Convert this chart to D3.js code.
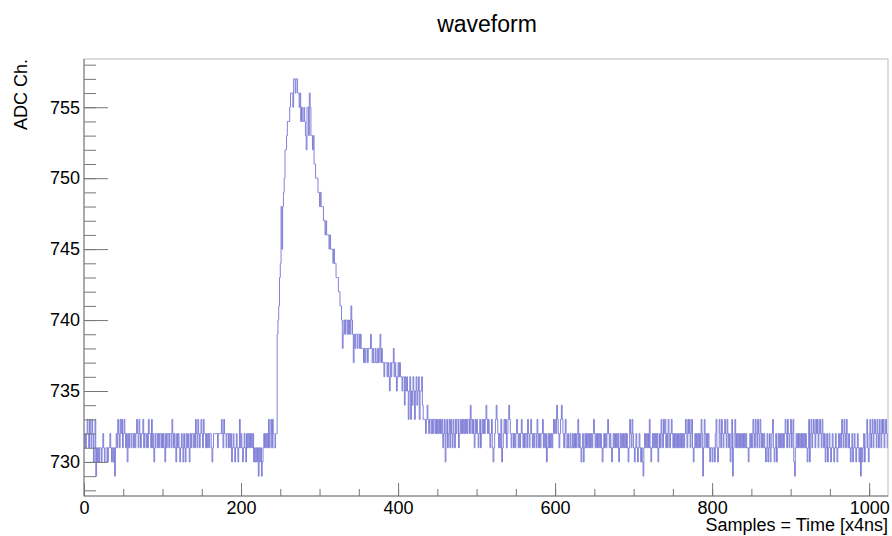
<!DOCTYPE html>
<html>
<head>
<meta charset="utf-8">
<script src="https://cdn.jsdelivr.net/npm/d3@7"></script>
<style>
  html, body { margin: 0; padding: 0; background: #fff; }
  svg { display: block; font-family: "Liberation Sans", Arial, Helvetica, sans-serif; }
</style>
</head>
<body>
<svg id="chart" width="892" height="536"></svg>
<script>
// ADC samples of one digitised waveform, one value per 4 ns sample.
const adcPreTrigger = [
  731,732,731,732,733,732,731,733,732,731,
  733,732,730,731,733,729,731,730,731,730,
  731,731,730,731,732,731,730,730,731,731,
  730,731,731,732,731,730,731,730,731,729,
  731,732,731,733,732,731,733,732,733,731,
  732,733,732,731,732,730,732,731,732,732,
  731,732,732,731,732,731,732,733,732,731,
  733,732,731,732,732,733,731,732,732,731,
  732,731,733,732,732,731,733,731,732,730,
  731,732,732,731,732,731,732,732,731,732,
  731,732,731,730,732,731,732,732,731,732,
  732,731,733,732,731,732,731,730,732,731,
  732,731,730,731,732,731,730,732,731,730,
  732,731,732,731,730,732,731,732,732,731,
  732,731,733,732,731,733,732,731,732,733,
  732,731,733,732,732,731,732,731,732,731,
  732,732,731,730,731,732,732,732,732,732,
  731,732,732,732,732,733,732,731,733,732,
  732,731,732,732,731,732,731,732,730,731,
  732,731,730,731,732,731,730,731,733,731,
  732,731,730,731,732,731,730,732,731,732,
  731,732,731,732,731,732,730,731,730,731,
  730,731,729,731,730,731,729,730,731,732,
  731,732,731,732,731,733,731,732,733,731,
  733,732,731,731,732,732
];
const adcRise = [
  739,740,741,743,744,748,745,748,749,750,
  752,752,753,754,754,754,755,756,756,756,
  755,757,757,756,757
];
const adcDecay = [
  757,756,756,755,756,754,755,754,754,755,
  754,753,752,755,755,753,756,755,753,753,
  752,753,751,751,750,750,750,749,749,748,
  749,748,748,748,747,747,746,747,746,746,
  746,745,746,745,745,745,744,745,744,744,
  743,743,743,742,742,741,741,740,738,739,
  740,739,740,740,739,740,739,740,739,741,
  740,739,737,739,738,739,739,738,739,739,
  738,739,738,738,738,737,738,737,738,738,
  737,738,738,738,739,738,737,738,737,737,
  738,737,737,738,737,738,739,737,738,737,
  737,736,737,737,737,736,737,736,735,737,
  736,737,737,738,736,737,736,735,736,737,
  736,737,736,736,735,736,736,734,736,735,
  736,735,733,735,736,733,735,734,736,735,
  733,735,736,734,735,736,733,735,735,736,
  734,733,733
];
const adcTailEarly = [
  733,732,733,734,733,732,733,733,732,733,
  732,733,733,732,733,732,733,732,733,732,
  733,732,733,731,732,733,730,732,733,731,
  732,733,731,733,732,731,733,732,731,733,
  732,733,733,731,732,733,732,733,732,733,
  732,733,732,733,732,733,733,732,734,733,
  732,733,732,731,733,732,733,732,731,732,
  733,731,732,733,732,733,732,733,734,733,
  732,733,732,731,732,733,731,730,731,732,
  733,734,733,732,731,732,731,733,730,731,
  732,733,732,733,731,732,733,734,733,732,
  731,732,732,731,732,731,732,733,732,731,
  732,731,732,733,732,731,732,731,732,732,
  731,733,732,731,732,733,732,731,732,731,
  732,732,731,733,732,731,732,731,732,732,
  733,731,732,731,732,730,731,732,731,732,
  731,732,731,732,733,732,733,732,734,733,
  732,731,732,733,734,733,732,731,732,733,
  731,731,732,731,731,732,731,731,732,731
];
const adcTailLate = [
  732,731,732,731,732,733,731,732,731,730,
  731,732,730,731,732,731,732,731,732,731,
  732,731,732,731,732,733,732,731,732,731,
  732,731,732,731,732,731,730,731,732,731,
  732,731,732,733,732,731,732,731,730,731,
  732,731,732,731,732,731,732,730,731,732,
  731,732,731,732,731,732,731,732,731,730,
  731,733,732,731,733,732,731,730,731,732,
  731,730,731,732,731,730,731,730,729,731,
  732,731,732,731,732,731,733,731,730,731,
  732,731,732,731,732,731,732,730,731,732,
  731,733,732,731,733,732,733,731,732,731,
  733,732,731,732,733,732,731,732,731,732,
  731,732,731,732,731,732,731,732,731,732,
  731,732,733,732,731,733,732,733,731,732,
  733,731,730,731,732,731,732,731,732,731,
  732,731,733,732,729,731,733,732,731,732,
  731,732,731,730,731,731,730,731,731,730,
  732,733,731,730,731,733,732,731,733,732,
  731,732,733,732,731,733,732,731,732,730,
  731,733,729,731,732,733,731,732,731,732,
  731,732,731,732,731,732,731,732,731,732,
  731,731,730,731,732,731,732,731,733,732,
  731,733,732,731,733,732,731,733,732,731,
  732,731,732,731,730,731,732,730,731,732,
  730,731,732,733,731,730,731,732,730,731,
  732,731,732,731,732,731,732,731,732,733,
  732,731,733,732,731,732,733,731,732,733,
  730,729,731,732,731,732,731,732,731,732,
  731,732,731,732,731,732,731,730,731,733,
  730,732,733,731,732,733,732,731,733,732,
  733,731,732,733,732,731,733,732,731,732,
  730,731,732,730,731,732,731,730,731,732,
  731,730,731,732,731,730,731,732,731,732,
  731,733,732,731,733,732,731,733,732,731,
  732,731,730,731,732,730,731,732,731,730,
  731,732,731,730,731,729,731,730,731,732,
  730,731,732,733,731,730,732,733,731,732,
  733,731,732,733,732,731,733,732,731,733,
  732,731,733,732,733,731,732,733,732,731
];

const xTickLabels = [0, 200, 400, 600, 800, 1000];
const xMinorTicks = [0, 50, 100, 150, 200, 250, 300, 350, 400, 450, 500,
                     550, 600, 650, 700, 750, 800, 850, 900, 950, 1000];
const yTickLabels = [730, 735, 740, 745, 750, 755];
const yMinorTicks = [728, 729, 730, 731, 732, 733, 734, 735, 736, 737, 738, 739, 740,
                     741, 742, 743, 744, 745, 746, 747, 748, 749, 750, 751, 752, 753,
                     754, 755, 756, 757, 758];
const nSamples = 1024;
const yRange = [727.6, 758.4];

const samples = [].concat(adcPreTrigger, adcRise, adcDecay, adcTailEarly, adcTailLate);

const svg = d3.select("#chart");
const frame = { left: 84, right: 888, top: 59, bottom: 496 };

const x = d3.scaleLinear().domain([0, nSamples]).range([frame.left, frame.right]);
const y = d3.scaleLinear().domain(yRange).range([frame.bottom, frame.top]);

// frame box
svg.append("rect")
  .attr("x", frame.left).attr("y", frame.top)
  .attr("width", frame.right - frame.left).attr("height", frame.bottom - frame.top)
  .attr("fill", "none").attr("stroke", "#bbb").attr("stroke-width", 1);

// step outline of the histogram bins
const pts = samples.map((v, i) => [i, v]);
pts.push([samples.length, samples[samples.length - 1]]);
const line = d3.line()
  .x(d => x(d[0]))
  .y(d => y(d[1]))
  .curve(d3.curveStepAfter);
svg.append("path")
  .datum(pts)
  .attr("d", line)
  .attr("fill", "none")
  .attr("stroke", "#7474d4")
  .attr("stroke-width", 0.9);

// axes
const axisColor = "#777";
const gx = svg.append("g").attr("transform", `translate(0,${frame.bottom})`);
gx.append("g").call(d3.axisBottom(x).tickValues(xMinorTicks).tickSize(-7).tickSizeOuter(0).tickFormat(""));
gx.append("g").call(d3.axisBottom(x).tickValues(xTickLabels).tickSize(-13).tickSizeOuter(0).tickPadding(5).tickFormat(d3.format("d")));

const gy = svg.append("g").attr("transform", `translate(${frame.left},0)`);
gy.append("g").call(d3.axisLeft(y).tickValues(yMinorTicks).tickSize(-12).tickSizeOuter(0).tickFormat(""));
gy.append("g").call(d3.axisLeft(y).tickValues(yTickLabels).tickSize(-24).tickSizeOuter(0).tickPadding(4).tickFormat(d3.format("d")));

svg.selectAll(".domain").remove();
svg.selectAll(".tick line").attr("stroke", axisColor);
svg.selectAll(".tick text").attr("fill", "#000").attr("font-size", 18)
  .attr("font-family", "'Liberation Sans', Arial, Helvetica, sans-serif");

svg.append("line")
  .attr("x1", frame.left).attr("x2", frame.right)
  .attr("y1", frame.bottom).attr("y2", frame.bottom)
  .attr("stroke", axisColor);
svg.append("line")
  .attr("x1", frame.left).attr("x2", frame.left)
  .attr("y1", frame.top).attr("y2", frame.bottom)
  .attr("stroke", axisColor);

// titles
svg.append("text")
  .attr("x", 487).attr("y", 32)
  .attr("text-anchor", "middle")
  .attr("font-size", 23)
  .text("waveform");

svg.append("text")
  .attr("x", frame.right).attr("y", 531)
  .attr("text-anchor", "end")
  .attr("font-size", 18)
  .text("Samples = Time [x4ns]");

svg.append("text")
  .attr("transform", `translate(27,${frame.top}) rotate(-90)`)
  .attr("text-anchor", "end")
  .attr("font-size", 18)
  .text("ADC Ch.");
</script>
</body>
</html>
